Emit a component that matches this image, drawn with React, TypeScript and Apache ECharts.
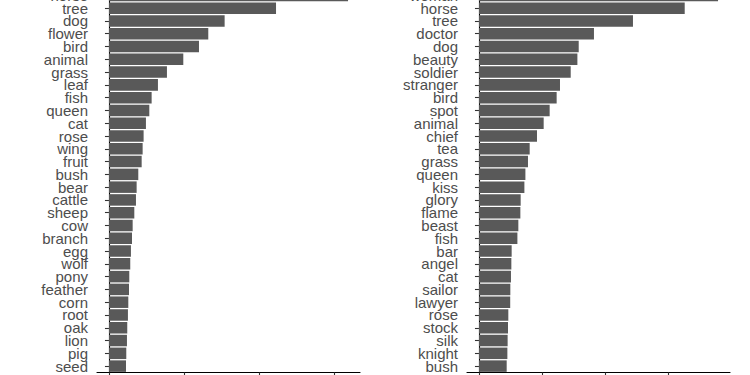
import React, { useEffect, useRef } from "react";
import * as echarts from "echarts";

const leftCategories = [
  "horse", "tree", "dog", "flower", "bird", "animal", "grass", "leaf", "fish", "queen",
  "cat", "rose", "wing", "fruit", "bush", "bear", "cattle", "sheep", "cow", "branch",
  "egg", "wolf", "pony", "feather", "corn", "root", "oak", "lion", "pig", "seed",
];
const leftValues = [
  318.7, 222.7, 154.2, 132.4, 120, 99.1, 77.3, 65.3, 56.9, 53.8,
  49.3, 46.2, 44.9, 43.6, 39.1, 36.9, 36, 33.8, 31.6, 30.7,
  29.3, 28.4, 27.1, 26.7, 25.8, 25.3, 24.4, 24, 23.1, 22.7,
];

const rightCategories = [
  "woman", "horse", "tree", "doctor", "dog", "beauty", "soldier", "stranger", "bird", "spot",
  "animal", "chief", "tea", "grass", "queen", "kiss", "glory", "flame", "beast", "fish",
  "bar", "angel", "cat", "sailor", "lawyer", "rose", "stock", "silk", "knight", "bush",
];
const rightValues = [
  379.4, 326.5, 244.4, 182.5, 158.3, 156.2, 145.6, 128.6, 123.3, 112.2,
  102.7, 92.1, 80.5, 77.8, 73.7, 72.1, 66.2, 65.7, 62.5, 61,
  51.9, 51.4, 50.8, 49.8, 49.6, 46.6, 46.1, 45.5, 45.1, 44,
];

const xTicks = [0, 100, 200, 300];

export default function App() {
  const ref = useRef<HTMLDivElement>(null);

  useEffect(() => {
    if (!ref.current) return;
    const chart = echarts.init(ref.current, undefined, { renderer: "svg" });

    const font = "'Liberation Sans', Arial, Helvetica, sans-serif";
    const makeX = (gridIndex: number, vals: number[]) => {
      const mx = Math.max(...vals);
      return {
        type: "value" as const,
        gridIndex,
        min: -0.05 * mx,
        max: mx * 1.05,
        splitLine: { show: false },
        axisLine: { show: true, lineStyle: { color: "#000", width: 1.1 } },
        axisTick: { show: true, length: 4, lineStyle: { color: "#333", width: 1.1 }, customValues: xTicks },
        axisLabel: { show: false, customValues: xTicks },
      };
    };
    const makeY = (gridIndex: number, cats: string[]) => ({
      type: "category" as const,
      gridIndex,
      data: cats,
      inverse: true,
      axisLine: { show: true, lineStyle: { color: "#000", width: 1.1 } },
      axisTick: { show: true, alignWithLabel: true, length: 4, lineStyle: { color: "#333", width: 1.1 } },
      axisLabel: {
        fontSize: 15,
        lineHeight: 12,
        color: "#4D4D4D",
        fontFamily: font,
        margin: 9,
        interval: 0,
      },
      splitLine: { show: false },
    });

    chart.setOption({
      animation: false,
      backgroundColor: "#fff",
      grid: [
        { left: 97, width: 263, top: 29, height: 383.5 },
        { left: 467, width: 263, top: 29, height: 383.5 },
      ],
      xAxis: [makeX(0, leftValues), makeX(1, rightValues)],
      yAxis: [makeY(0, leftCategories), makeY(1, rightCategories)],
      series: [
        {
          type: "bar",
          xAxisIndex: 0,
          yAxisIndex: 0,
          data: leftValues,
          barCategoryGap: "10%",
          itemStyle: { color: "#595959" },
        },
        {
          type: "bar",
          xAxisIndex: 1,
          yAxisIndex: 1,
          data: rightValues,
          barCategoryGap: "10%",
          itemStyle: { color: "#595959" },
        },
      ],
    });

    return () => chart.dispose();
  }, []);

  return (
    <div
      ref={ref}
      style={{ position: "absolute", left: 0, top: -40, width: 750, height: 460 }}
    />
  );
}
